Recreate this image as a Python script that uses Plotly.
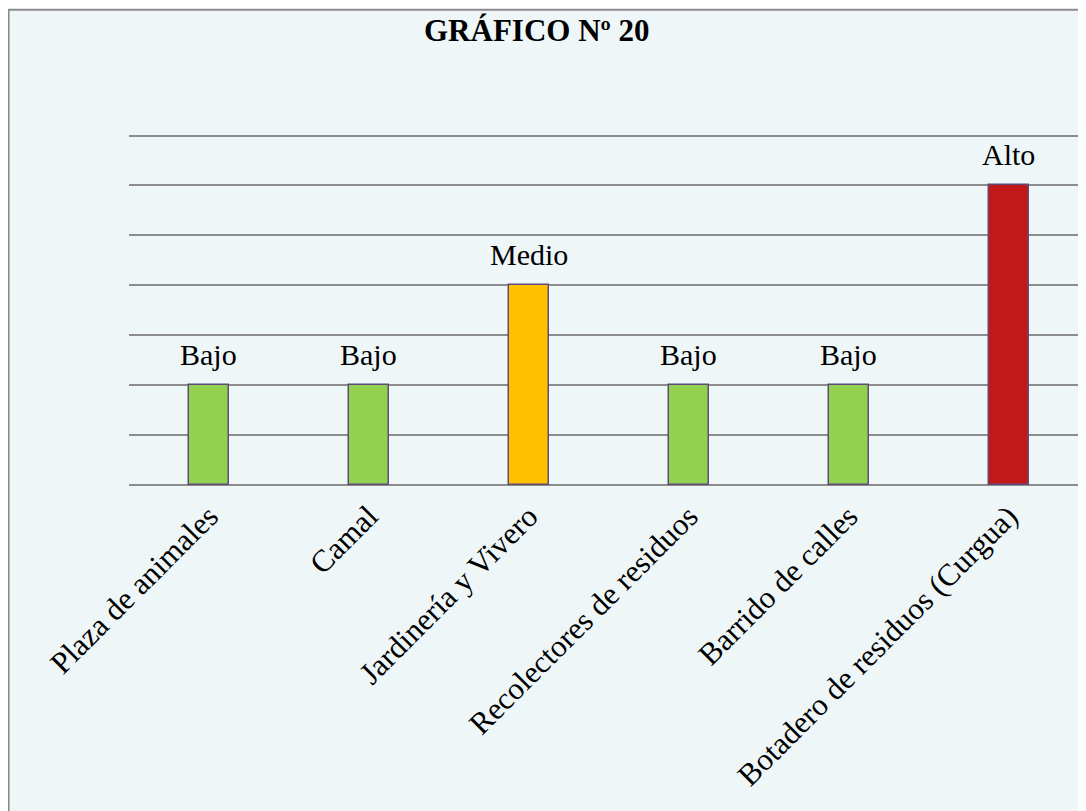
import plotly.graph_objects as go

categories = ["Plaza de animales", "Camal", "Jardinería y Vivero",
              "Recolectores de residuos", "Barrido de calles",
              "Botadero de residuos (Curgua)"]
values = [2, 2, 4, 2, 2, 6]
level_labels = ["Bajo", "Bajo", "Medio", "Bajo", "Bajo", "Alto"]
bar_colors = ["#92d050", "#92d050", "#ffc000", "#92d050", "#92d050", "#c31818"]
title_text = "GRÁFICO Nº 20"

FONT = "Liberation Serif, Times New Roman, serif"

OFF = 8  # page body margin
Y_TOP = 7.05
W, H = 1086 - OFF, 811 - OFF
L = 128.5 - OFF
T = 135 - (Y_TOP - 7) * 50 - OFF
R, B = 0, H - (485 - OFF)
pw = W - L - R
ph = H - T - B

def px2paper_x(px):
    return (px - OFF - L) / pw

def px2paper_y(py):
    return (H - B - (py - OFF)) / ph

x_idx = list(range(len(categories)))

fig = go.Figure()
fig.add_trace(go.Bar(
    x=x_idx,
    y=values,
    width=0.25,
    marker=dict(color=bar_colors, line=dict(color="#604a7b", width=1.5)),
    hoverinfo="skip",
))

for xi, v, lab in zip(x_idx, values, level_labels):
    fig.add_annotation(x=xi, y=v, xref="x", yref="y", text=lab,
                       showarrow=False, yanchor="bottom", xanchor="center",
                       yshift=12,
                       font=dict(family=FONT, size=30, color="black"))

# Frame around chart
fig.add_shape(type="rect", xref="paper", yref="paper",
              x0=px2paper_x(8), x1=px2paper_x(1110),
              y0=px2paper_y(840), y1=px2paper_y(9),
              line=dict(color="#8a8a8a", width=2),
              fillcolor="#eef6f8", layer="below")

fig.add_annotation(text="<b>" + title_text + "</b>", xref="paper", yref="paper",
                   x=px2paper_x(537), y=px2paper_y(30), xanchor="center", yanchor="middle",
                   showarrow=False, font=dict(family=FONT, size=31, color="black"))

fig.update_layout(
    width=W, height=H,
    margin=dict(l=L, r=R, t=T, b=B, pad=0),
    paper_bgcolor="white",
    plot_bgcolor="#e3f0f4",
    showlegend=False,
    bargap=0,
)
fig.update_xaxes(
    tickmode="array",
    tickvals=x_idx,
    ticktext=categories,
    tickangle=-45,
    tickfont=dict(family=FONT, size=31, color="black"),
    ticklabelstandoff=6,
    range=[-0.5, -0.5 + pw / 160.0],
    showgrid=False, zeroline=False, showline=False, ticks="",
)
fig.update_yaxes(
    range=[0, Y_TOP], tickmode="array", tickvals=list(range(8)),
    showticklabels=False,
    showgrid=True, gridcolor="#8c8c8c", gridwidth=1.5,
    zeroline=True, zerolinecolor="#8c8c8c", zerolinewidth=1.5,
    showline=False, ticks="",
)

fig.write_html("out.html")
